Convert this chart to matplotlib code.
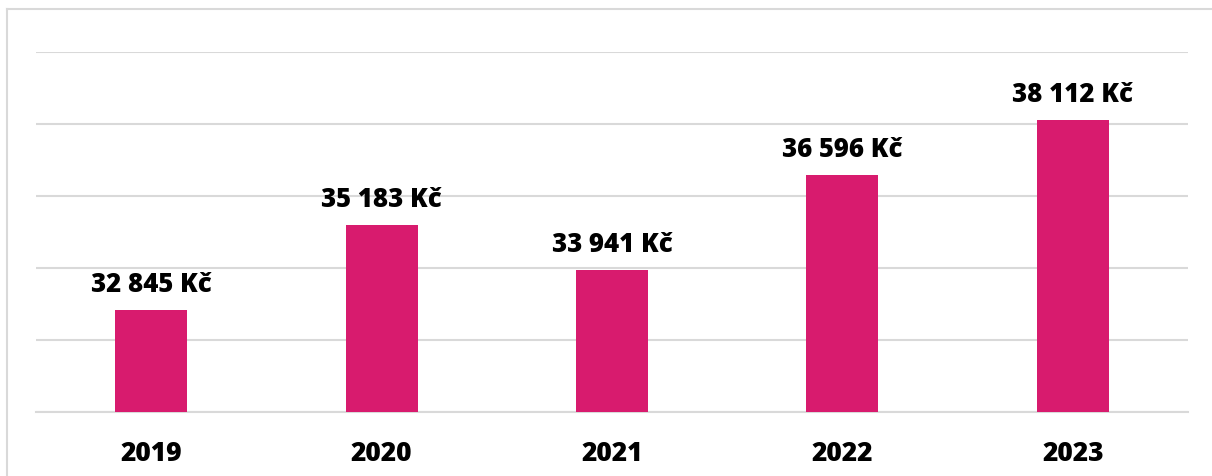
import numpy as np
import matplotlib.pyplot as plt
from matplotlib.lines import Line2D

years = ['2019', '2020', '2021', '2022', '2023']
salary = [32845, 35183, 33941, 36596, 38112]
labels = ['32 845 Kč', '35 183 Kč', '33 941 Kč', '36 596 Kč', '38 112 Kč']

plt.rcParams['font.family'] = ['Open Sans', 'DejaVu Sans']

fig = plt.figure(figsize=(12.12, 4.77), dpi=100)
ax = fig.add_axes([36 / 1212, 64 / 477, 1152 / 1212, 360 / 477])

x = np.arange(len(years))
ax.bar(x, salary, width=0.3125, color='#D81B6E', zorder=3)

ax.set_xlim(-0.5, len(years) - 0.5)
ax.set_ylim(30000, 40000)
ax.set_yticks(np.arange(30000, 40001, 2000))
ax.yaxis.grid(True, color='#d9d9d9', linewidth=1.5, zorder=0)
ax.tick_params(axis='y', left=False, labelleft=False)

ax.set_xticks(x)
ax.set_xticklabels(years, fontsize=19, fontweight=800)
ax.tick_params(axis='x', length=0, pad=20.5)

for s in ['top', 'right', 'left']:
    ax.spines[s].set_visible(False)
ax.spines['bottom'].set_color('#d9d9d9')
ax.spines['bottom'].set_linewidth(1.5)

for xi, v, lab in zip(x, salary, labels):
    ax.annotate(lab, (xi, v), xytext=(0, 13.7), textcoords='offset points',
                ha='center', va='baseline', fontsize=18.5, fontweight=800)

# outer frame (partly cropped)
fig.add_artist(Line2D([7 / 1212, 7 / 1212], [0, 1 - 10 / 477], color='#d9d9d9', lw=1.5))
fig.add_artist(Line2D([7 / 1212, 1], [1 - 10 / 477, 1 - 10 / 477], color='#d9d9d9', lw=1.5))

fig.savefig('out.png', dpi=100)
